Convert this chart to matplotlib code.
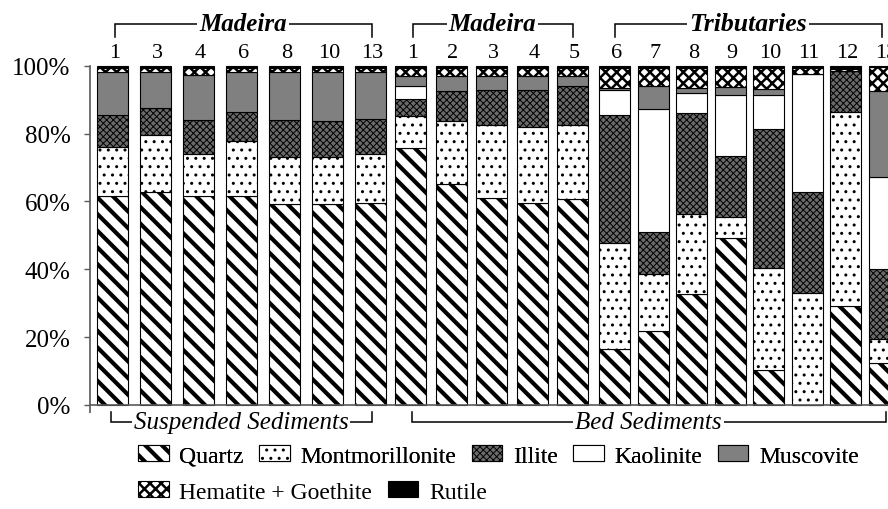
import matplotlib.pyplot as plt
import numpy as np

plt.rcParams['font.family'] = ['Liberation Serif', 'DejaVu Serif']

# ---- data (percent of each mineral per sample) ----
sample_labels = ['1', '3', '4', '6', '8', '10', '13',
                 '1', '2', '3', '4', '5',
                 '6', '7', '8', '9', '10', '11', '12', '13']
minerals = ['Quartz', 'Montmorillonite', 'Illite', 'Kaolinite',
            'Muscovite', 'Hematite + Goethite', 'Rutile']

quartz    = [61.6, 62.7, 61.6, 61.6, 59.1, 59.1, 59.6,
             75.7, 65.2, 61.0, 59.6, 60.8,
             16.5, 21.8, 32.6, 49.3, 10.3, 0.0, 29.2, 12.3]
montmor   = [14.4, 16.9, 12.4, 16.3, 13.9, 13.9, 14.4,
             9.6, 18.6, 21.6, 22.3, 21.6,
             31.1, 16.9, 23.8, 6.1, 30.1, 33.1, 57.1, 7.1]
illite    = [9.5, 7.9, 10.1, 8.6, 11.1, 10.8, 10.3,
             4.9, 8.8, 10.3, 11.0, 11.7,
             37.9, 12.3, 29.7, 17.9, 40.8, 29.7, 12.2, 20.8]
kaolinite = [0.0, 0.0, 0.0, 0.0, 0.0, 0.0, 0.0,
             3.8, 0.0, 0.0, 0.0, 0.0,
             7.4, 36.3, 5.9, 18.1, 10.2, 34.8, 0.0, 27.0]
muscovite = [12.5, 10.5, 13.2, 11.5, 13.9, 14.2, 13.7,
             2.9, 4.5, 4.1, 4.1, 2.9,
             0.5, 6.6, 1.3, 2.2, 1.7, 0.0, 0.0, 25.4]
hematite  = [1.4, 1.4, 2.0, 1.4, 1.4, 1.4, 1.4,
             2.5, 2.3, 2.4, 2.4, 2.4,
             5.9, 5.5, 6.1, 5.8, 6.3, 1.6, 0.5, 7.0]
rutile    = [0.6, 0.6, 0.7, 0.6, 0.6, 0.6, 0.6,
             0.6, 0.6, 0.6, 0.6, 0.6,
             0.7, 0.6, 0.6, 0.6, 0.6, 0.8, 1.0, 0.4]

series = [quartz, montmor, illite, kaolinite, muscovite, hematite, rutile]

# ---- look of each mineral: facecolor, hatch, hatch linewidth ----
styles = [
    ('white',   '\\\\',   3.0),
    ('white',   '..',     1.0),
    ('#6a6a6a', 'xxxxx',  0.7),
    ('white',   '',       1.0),
    ('#808080', '',       1.0),
    ('white',   'xxx',    1.8),
    ('black',   '',       1.0),
]


def set_hatch_lw(artist, lw):
    if hasattr(artist, 'set_hatch_linewidth'):
        artist.set_hatch_linewidth(lw)
    else:
        artist._hatch_linewidth = lw


# ---- bar positions: three groups with slightly different spacing ----
group_sizes = [7, 5, 8]
group_steps = [43.0, 40.5, 38.5]
group_gaps = [40.0, 42.0]
xpos = []
x = 0.0
for g, (n, step) in enumerate(zip(group_sizes, group_steps)):
    if g > 0:
        x += group_gaps[g - 1]
    for i in range(n):
        if i > 0:
            x += step
        xpos.append(x)
xpos = np.array(xpos)

W, H = 888, 510
fig = plt.figure(figsize=(W / 100, H / 100), dpi=100)
ax = fig.add_axes([90 / W, 1 - 406 / H, 1 - 90 / W, (406 - 66.7) / H])

handles = []
bottom = np.zeros(len(xpos))
for vals, (fc, hatch, hlw), name in zip(series, styles, minerals):
    vals = np.array(vals)
    with plt.rc_context({'hatch.linewidth': hlw}):
        bars = ax.bar(xpos, vals, width=31, bottom=bottom, color=fc,
                      edgecolor='black', linewidth=0.8, hatch=hatch,
                      label=name, clip_on=False)
    for b in bars:
        set_hatch_lw(b, hlw)
    handles.append(bars)
    bottom += vals

x_left = 90 - 112.5
ax.set_xlim(x_left, W - 112.5)
ax.set_ylim(0, 100)
ax.set_yticks(np.arange(0, 101, 20))
ax.set_yticklabels([f'{v}%' for v in range(0, 101, 20)])
ax.tick_params(axis='y', length=4, width=1, color='#595959', pad=10, labelsize=18)
ax.set_xticks([x_left])
ax.set_xticklabels([''])
ax.tick_params(axis='x', length=6, width=1.2, color='#595959')
for s in ['top', 'right']:
    ax.spines[s].set_visible(False)
for s in ['left', 'bottom']:
    ax.spines[s].set_color('#595959')
    ax.spines[s].set_linewidth(1.2)

# sample numbers above bars
for xp, lab in zip(xpos, sample_labels):
    ax.text(xp + 2, 104.0, lab, ha='center', va='center', fontsize=16, clip_on=False)


def bracket(x0, x1, y_line, y_tip, label, weight, size):
    ax.plot([x0, x0, x1, x1], [y_tip, y_line, y_line, y_tip], color='black',
            lw=1.1, clip_on=False, solid_joinstyle='miter')
    ax.text((x0 + x1) / 2, y_line, label, ha='center', va='center', fontsize=size,
            fontstyle='italic', fontweight=weight, clip_on=False,
            bbox=dict(facecolor='white', edgecolor='none', pad=1.5))


bracket(xpos[0] + 2, xpos[6] + 1, 112.3, 108.5, 'Madeira', 'bold', 18)
bracket(xpos[7] + 2, xpos[11], 112.3, 108.5, 'Madeira', 'bold', 18)
bracket(xpos[12], xpos[19] - 2, 112.3, 108.5, 'Tributaries', 'bold', 18.5)

bracket(xpos[0] - 2, xpos[6] + 1, -5.0, -2.1, 'Suspended Sediments', 'normal', 18)
bracket(xpos[7] + 1, xpos[19] + 2, -5.0, -2.1, 'Bed Sediments', 'normal', 18)

# legend in two rows
leg_kw = dict(loc='center left', frameon=False, fontsize=17, handlelength=1.3,
              handleheight=0.65, handletextpad=0.45, columnspacing=0.65,
              borderpad=0, borderaxespad=0)
leg1 = fig.legend(handles[:5], minerals[:5], ncol=5,
                  bbox_to_anchor=(138 / W, 1 - 457 / H), **leg_kw)
leg2 = fig.legend(handles[5:], minerals[5:], ncol=2,
                  bbox_to_anchor=(138 / W, 1 - 493 / H), **leg_kw)
fig.add_artist(leg1)
for leg, sty in [(leg1, styles[:5]), (leg2, styles[5:])]:
    for h, (fc, hatch, hlw) in zip(leg.legend_handles, sty):
        set_hatch_lw(h, hlw)

fig.savefig('out.png', dpi=100)
